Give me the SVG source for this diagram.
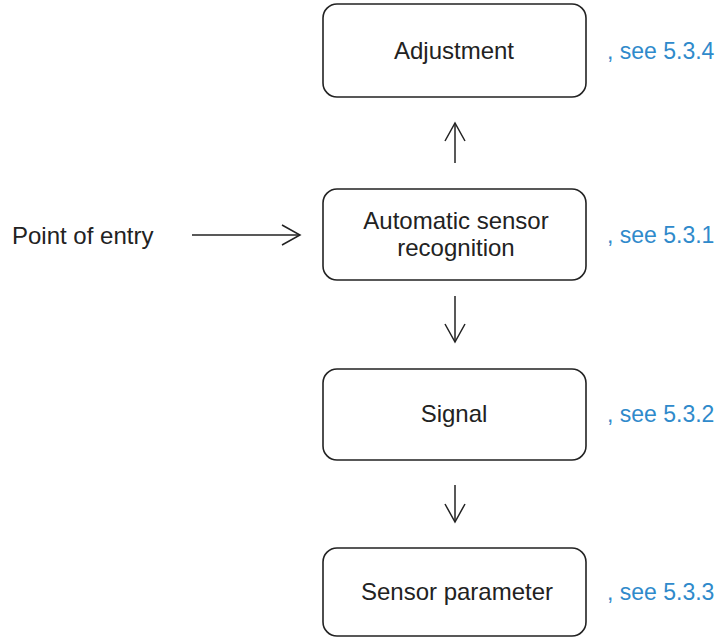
<svg xmlns="http://www.w3.org/2000/svg" width="720" height="637" viewBox="0 0 720 637">
<style>
.box{fill:#fff;stroke:#222;stroke-width:1.6}
.t{font-family:"Liberation Sans",Arial,sans-serif;font-size:24px;fill:#222;text-anchor:middle}
.l{font-family:"Liberation Sans",Arial,sans-serif;font-size:24px;fill:#222}
.ref{font-family:"Liberation Sans",Arial,sans-serif;font-size:23px;fill:#2f8acb}
.c{fill:none;stroke:#222;stroke-width:1.5}
</style>
<defs>
<marker id="ah" markerUnits="userSpaceOnUse" markerWidth="24" markerHeight="24" refX="19" refY="10" orient="auto" viewBox="0 0 24 20">
<path d="M1,0 L19,10 L1,20" fill="none" stroke="#222" stroke-width="1.5"/>
</marker>
</defs>
<g id="connectors">
<line class="c" x1="455" y1="163" x2="455" y2="123" marker-end="url(#ah)"/>
<line class="c" x1="455" y1="296" x2="455" y2="342" marker-end="url(#ah)"/>
<line class="c" x1="455" y1="485" x2="455" y2="522" marker-end="url(#ah)"/>
<line class="c" x1="192" y1="235" x2="300" y2="235" marker-end="url(#ah)"/>
</g>
<g id="entry"><text class="l" x="12" y="244">Point of entry</text></g>
<g id="adjustment">
<rect class="box" x="323" y="4" width="263" height="93" rx="14"/>
<text class="t" x="454" y="59">Adjustment</text>
<text class="ref" x="607" y="59">, see 5.3.4</text>
</g>
<g id="recognition">
<rect class="box" x="323" y="189" width="263" height="91" rx="14"/>
<text class="t" x="456" y="229">Automatic sensor</text>
<text class="t" x="456" y="256">recognition</text>
<text class="ref" x="607" y="243">, see 5.3.1</text>
</g>
<g id="signal">
<rect class="box" x="323" y="369" width="263" height="91" rx="14"/>
<text class="t" x="454" y="422">Signal</text>
<text class="ref" x="607" y="422">, see 5.3.2</text>
</g>
<g id="sensorparam">
<rect class="box" x="323" y="548" width="263" height="88" rx="14"/>
<text class="t" x="457" y="600">Sensor parameter</text>
<text class="ref" x="607" y="600">, see 5.3.3</text>
</g>
</svg>
